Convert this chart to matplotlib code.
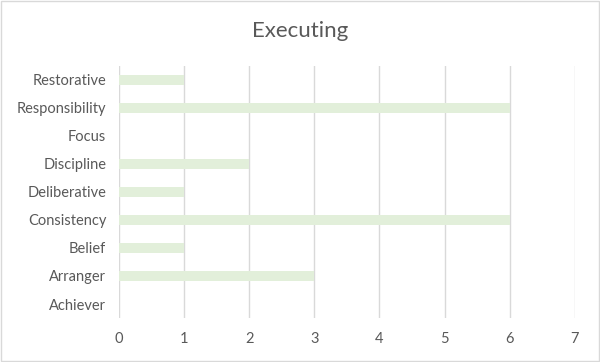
import matplotlib.pyplot as plt
from matplotlib.patches import Rectangle

categories = ["Achiever", "Arranger", "Belief", "Consistency", "Deliberative",
              "Discipline", "Focus", "Responsibility", "Restorative"]
values = [0, 3, 1, 6, 1, 2, 0, 6, 1]
x_ticks = [0, 1, 2, 3, 4, 5, 6, 7]

plt.rcParams["font.family"] = ["Lato", "DejaVu Sans"]
text_color = "#595959"

fig = plt.figure(figsize=(6, 3.62), dpi=100)
ax = fig.add_axes([0.198, 0.1215, 0.76, 0.6965])

ax.barh(range(len(categories)), values, height=0.38, color="#E2EFDA", zorder=2)
ax.set_xlim(0, 7)
ax.set_ylim(-0.5, len(categories) - 0.5)
ax.set_xticks(x_ticks)
ax.set_yticks(range(len(categories)))
ax.set_yticklabels(categories)
ax.grid(axis="x", color="#D9D9D9", linewidth=1, zorder=0)
for s in ax.spines.values():
    s.set_visible(False)
ax.tick_params(length=0, colors=text_color, labelsize=10.5)
ax.tick_params(axis="x", pad=10)
ax.tick_params(axis="y", pad=9)

fig.text(0.5, 0.915, "Executing", ha="center", va="center",
         fontsize=16, color=text_color)
fig.patches.append(Rectangle((0.002, 0.003), 0.996, 0.994, transform=fig.transFigure,
                             fill=False, edgecolor="#D9D9D9", linewidth=1))

fig.savefig("out.png", dpi=100)
